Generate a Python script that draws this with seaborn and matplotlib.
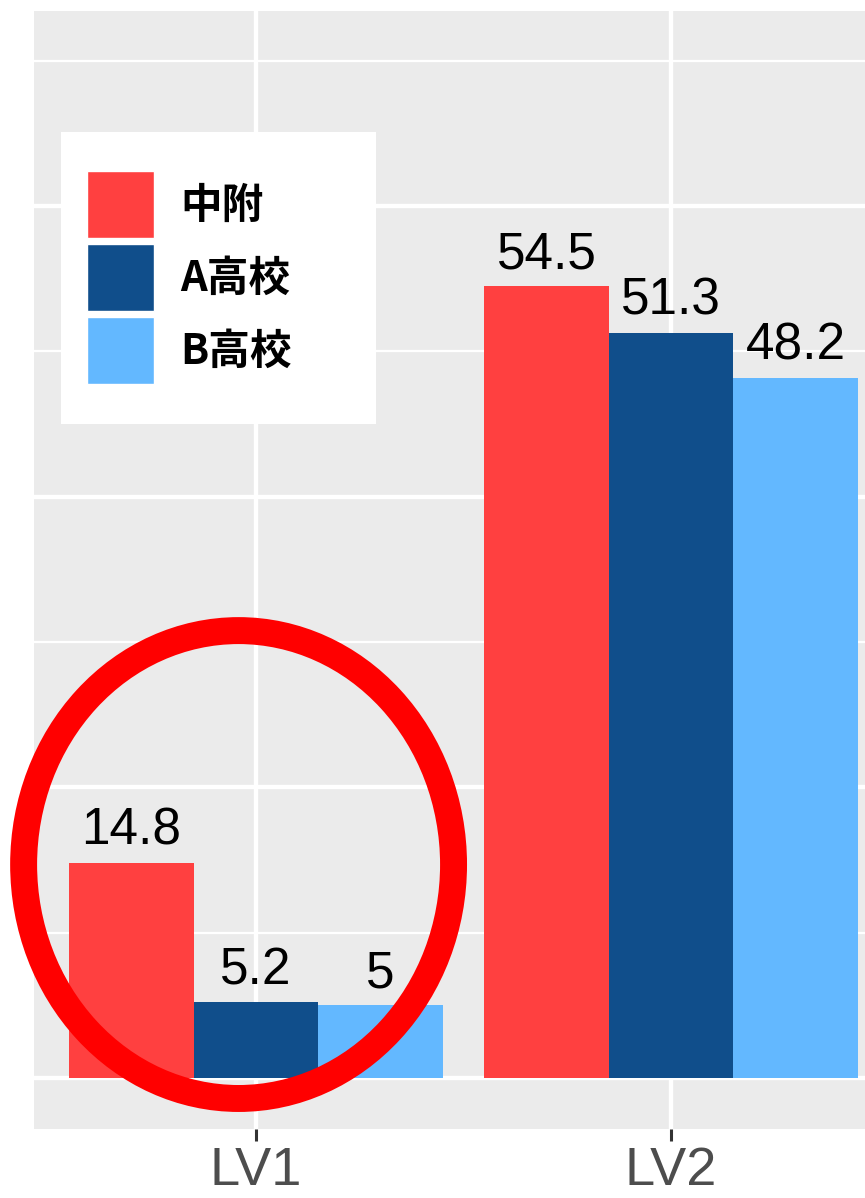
import matplotlib
matplotlib.use("Agg")
import matplotlib.pyplot as plt
from matplotlib.patches import Ellipse, Rectangle
from matplotlib.ticker import MultipleLocator
import seaborn as sns
import pandas as pd

# values
levels = ["LV1", "LV2"]
schools = ["中附", "A高校", "B高校"]
chufu = [14.8, 54.5]
school_a = [5.2, 51.3]
school_b = [5.0, 48.2]
colors = ["#FF4040", "#104E8B", "#63B8FF"]

df = pd.DataFrame({
    "level": levels * len(schools),
    "school": [s for s in schools for _ in levels],
    "value": chufu + school_a + school_b,
})

sns.set_style("darkgrid", {"axes.facecolor": "#EBEBEB", "grid.color": "white"})
plt.rcParams["font.family"] = ["Liberation Sans Narrow", "Liberation Sans", "DejaVu Sans"]

fig = plt.figure(figsize=(8.65, 11.98), dpi=100)
ax = fig.add_axes([34 / 865, 69 / 1198, 831 / 865, 1118 / 1198])

sns.barplot(
    data=df, x="level", y="value", hue="school",
    order=levels, hue_order=schools, palette=colors,
    width=0.9, saturation=1, linewidth=0, errorbar=None, ax=ax,
)

for cont, vals in zip(ax.containers, [chufu, school_a, school_b]):
    ax.bar_label(cont, labels=[f"{v:g}" for v in vals], padding=5,
                 fontsize=37, color="black")

# legend: rebuild seaborn's one in the top-left white box
old = ax.get_legend()
handles = old.legend_handles
labels = [t.get_text() for t in old.get_texts()]
old.remove()
for h in handles:
    h.set_edgecolor("white")
    h.set_linewidth(1)
ax.add_patch(Rectangle((61 / 865, 1 - 424 / 1198), 315 / 865, 292 / 1198,
                       transform=fig.transFigure, facecolor="white",
                       linewidth=0, zorder=4.5))
ax.legend(
    handles, labels, loc="upper left",
    bbox_to_anchor=(87 / 865, 1 - 171 / 1198), bbox_transform=fig.transFigure,
    frameon=False, borderpad=0, borderaxespad=0,
    handlelength=1.61, handleheight=2.09, labelspacing=0.15, handletextpad=0.62,
    labelcolor="black",
    prop=dict(family=["Noto Sans CJK JP", "DejaVu Sans"], weight="bold", size=30),
)

# the red circle around LV1
ax.add_patch(Ellipse((-0.042, 14.69), 1.036, 32.2, fill=False,
                     edgecolor="#FF0000", linewidth=19.4, zorder=6, clip_on=False))

ax.set_xlim(-0.535, 1.4675)
ax.set_ylim(-3.51, 73.43)
ax.yaxis.set_major_locator(MultipleLocator(20))
ax.yaxis.set_minor_locator(MultipleLocator(10))
ax.grid(which="major", color="white", linewidth=3.1)
ax.grid(which="minor", axis="y", color="white", linewidth=1.6)
ax.set_axisbelow(True)

ax.set_xlabel("")
ax.set_ylabel("")
ax.tick_params(axis="x", length=8.6, width=2.2, color="#333333",
               labelsize=39, labelcolor="#4D4D4D", pad=3.5, bottom=True)
ax.tick_params(axis="y", which="both", left=False, labelleft=False)
for s in ax.spines.values():
    s.set_visible(False)

fig.savefig("out.png", dpi=100)
